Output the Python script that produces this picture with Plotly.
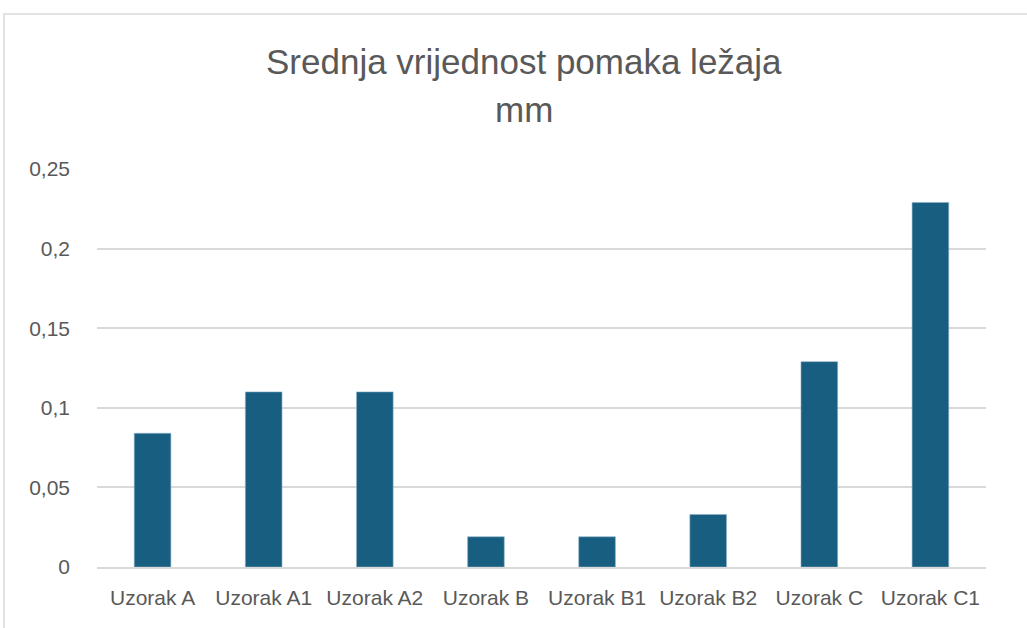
import plotly.graph_objects as go

# Mean bearing displacement per sample (mm)
samples = ["Uzorak A", "Uzorak A1", "Uzorak A2", "Uzorak B",
           "Uzorak B1", "Uzorak B2", "Uzorak C", "Uzorak C1"]
displacement_mm = [0.084, 0.11, 0.11, 0.019, 0.019, 0.033, 0.129, 0.229]

y_ticks = [0, 0.05, 0.1, 0.15, 0.2, 0.25]

FONT = "Liberation Sans Narrow, Arial Narrow, Liberation Sans, sans-serif"
TEXT = "#595959"
BAR = "#185E81"
GRID = "#D9D9D9"

W, H = 1027, 628
L, R, T, B = 97, 41, 169, 61

fig = go.Figure(
    go.Bar(
        x=samples,
        y=displacement_mm,
        marker=dict(color=BAR, line=dict(color="#8FB3C7", width=0.6)),
        width=0.33,
    )
)

# Title block, centred over the whole chart frame
title_x = (524 - L) / (W - L - R)
plot_h = H - T - B
fig.add_annotation(
    text="Srednja vrijednost pomaka ležaja",
    xref="paper", yref="paper",
    x=title_x, y=(H - B - 62) / plot_h,
    showarrow=False, xanchor="center", yanchor="middle",
    font=dict(family=FONT, size=35, color=TEXT),
)
fig.add_annotation(
    text="mm",
    xref="paper", yref="paper",
    x=title_x, y=(H - B - 109) / plot_h,
    showarrow=False, xanchor="center", yanchor="middle",
    font=dict(family=FONT, size=35, color=TEXT),
)

# Light chart frame (left and top edges visible)
fig.add_shape(
    type="rect", xref="paper", yref="paper",
    x0=(4 - L) / (W - L - R), x1=1.2,
    y0=-0.3, y1=(H - B - 14) / plot_h,
    line=dict(color=GRID, width=1.5),
    layer="below",
)

fig.update_layout(
    width=W, height=H,
    margin=dict(l=L, r=R, t=T, b=B),
    paper_bgcolor="white",
    plot_bgcolor="white",
    separators=",.",
    showlegend=False,
    bargap=0.67,
    font=dict(family=FONT, color=TEXT),
)
fig.update_xaxes(
    showgrid=False,
    showline=True, linecolor=GRID, linewidth=1.5,
    ticks="",
    tickfont=dict(family=FONT, size=21, color=TEXT),
    ticklabelstandoff=11,
)
fig.update_yaxes(
    range=[0, 0.25],
    tickvals=y_ticks,
    showgrid=True, gridcolor=GRID, gridwidth=1.5,
    zeroline=False,
    showline=False,
    ticks="",
    tickfont=dict(family=FONT, size=21, color=TEXT),
    ticklabelstandoff=26,
)

fig.write_html("out.html")
